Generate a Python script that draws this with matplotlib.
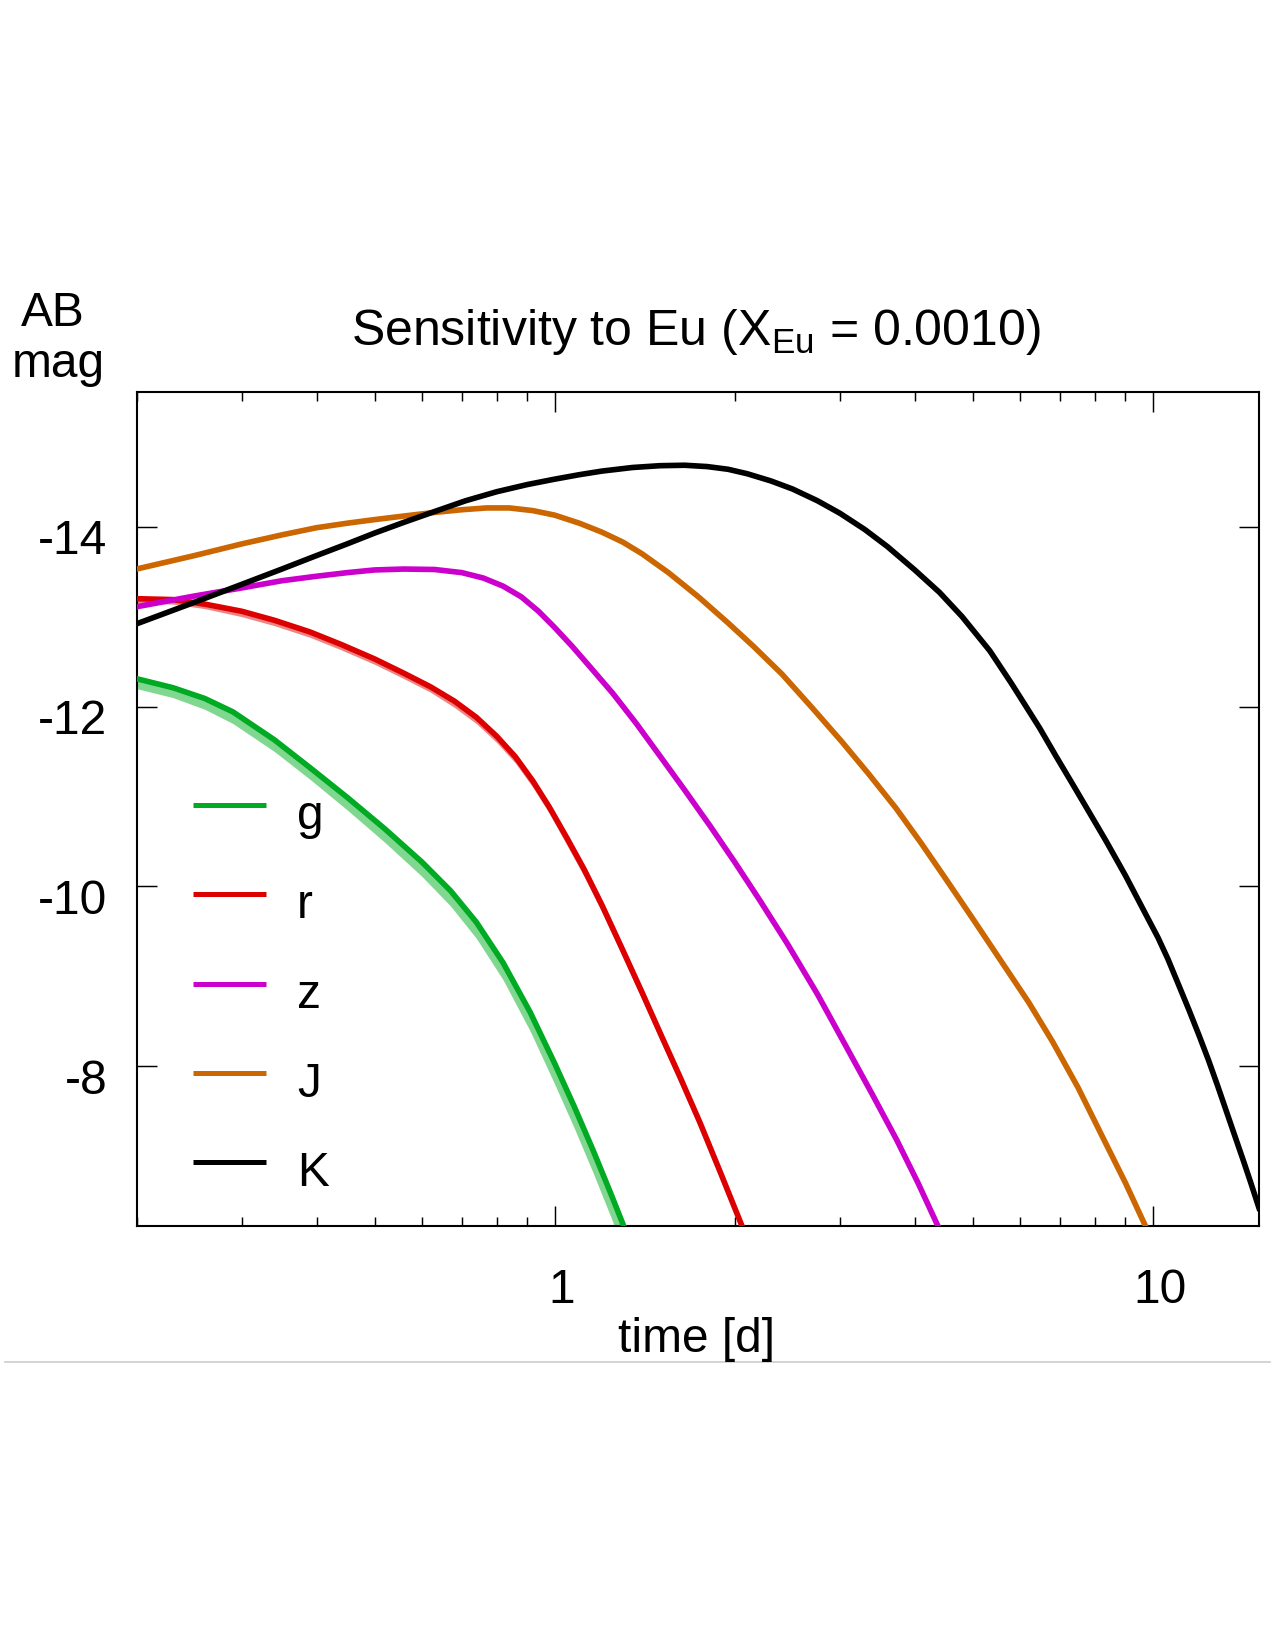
import matplotlib
matplotlib.use("Agg")
import matplotlib.pyplot as plt
import matplotlib.transforms as mtransforms
from matplotlib.lines import Line2D
from matplotlib.ticker import LogLocator, NullFormatter
import numpy as np

plt.rcParams['font.family'] = ['Liberation Sans', 'DejaVu Sans']
plt.rcParams['mathtext.fontset'] = 'custom'
plt.rcParams['mathtext.rm'] = 'Liberation Sans'
plt.rcParams['mathtext.it'] = 'Liberation Sans:italic'
plt.rcParams['axes.unicode_minus'] = False

# light curves (time in days, AB magnitude)
t_g = [0.20, 0.23, 0.26, 0.29, 0.34, 0.39, 0.45, 0.52, 0.60, 0.67, 0.74, 0.82, 0.91, 1.00, 1.08, 1.16, 1.24, 1.31]
m_g = [-12.31, -12.21, -12.09, -11.94, -11.63, -11.32, -10.99, -10.64, -10.27, -9.95, -9.60, -9.15, -8.60, -8.03, -7.54, -7.06, -6.59, -6.19]
m_g_faint = [-12.20, -12.10, -11.97, -11.81, -11.50, -11.19, -10.85, -10.49, -10.11, -9.78, -9.42, -8.96, -8.39, -7.80, -7.30, -6.81, -6.33, -5.92]

t_r = [0.20, 0.23, 0.26, 0.30, 0.34, 0.39, 0.44, 0.50, 0.56, 0.62, 0.68, 0.74, 0.80, 0.86, 0.92, 0.98, 1.05, 1.12, 1.20, 1.30, 1.40, 1.51, 1.62, 1.75, 1.90, 2.06]
m_r = [-13.20, -13.19, -13.14, -13.06, -12.96, -12.83, -12.69, -12.53, -12.37, -12.22, -12.06, -11.88, -11.67, -11.44, -11.17, -10.88, -10.53, -10.19, -9.79, -9.29, -8.82, -8.33, -7.88, -7.37, -6.79, -6.21]
m_r_faint = [-13.15, -13.14, -13.09, -13.00, -12.90, -12.77, -12.63, -12.47, -12.31, -12.16, -11.99, -11.81, -11.60, -11.37, -11.10, -10.81, -10.45, -10.11, -9.71, -9.21, -8.74, -8.25, -7.80, -7.29, -6.71, -6.13]

t_z = [0.20, 0.25, 0.30, 0.35, 0.40, 0.45, 0.50, 0.56, 0.63, 0.70, 0.76, 0.82, 0.88, 0.94, 1.00, 1.07, 1.15, 1.25, 1.37, 1.50, 1.65, 1.82, 2.00, 2.20, 2.45, 2.75, 3.07, 3.40, 3.73, 4.05, 4.38]
m_z = [-13.11, -13.23, -13.32, -13.40, -13.45, -13.49, -13.52, -13.53, -13.525, -13.49, -13.43, -13.34, -13.22, -13.06, -12.88, -12.67, -12.43, -12.15, -11.81, -11.45, -11.07, -10.67, -10.27, -9.85, -9.36, -8.80, -8.22, -7.68, -7.18, -6.70, -6.21]

t_J = [0.20, 0.25, 0.30, 0.35, 0.40, 0.45, 0.50, 0.56, 0.63, 0.70, 0.77, 0.84, 0.92, 1.00, 1.10, 1.20, 1.30, 1.40, 1.55, 1.74, 1.95, 2.15, 2.40, 2.70, 3.02, 3.35, 3.72, 4.10, 4.52, 5.00, 5.60, 6.20, 6.80, 7.50, 8.20, 9.00, 9.72]
m_J = [-13.53, -13.68, -13.81, -13.91, -13.99, -14.04, -14.08, -14.12, -14.16, -14.19, -14.21, -14.21, -14.18, -14.13, -14.04, -13.94, -13.83, -13.70, -13.49, -13.22, -12.93, -12.67, -12.36, -11.98, -11.61, -11.25, -10.87, -10.48, -10.07, -9.64, -9.15, -8.71, -8.27, -7.76, -7.24, -6.70, -6.22]

t_K = [0.20, 0.25, 0.30, 0.35, 0.40, 0.45, 0.50, 0.56, 0.63, 0.71, 0.80, 0.90, 1.00, 1.10, 1.20, 1.35, 1.50, 1.65, 1.80, 1.95, 2.10, 2.30, 2.50, 2.75, 3.00, 3.30, 3.60, 4.00, 4.40, 4.80, 5.34, 5.80, 6.10, 6.47, 6.90, 7.40, 7.85, 8.36, 9.00, 9.80, 10.2, 10.6, 11.05, 11.5, 11.95, 12.4, 12.85, 13.3, 13.75, 14.2, 14.6, 15.05]
m_K = [-12.92, -13.16, -13.36, -13.53, -13.68, -13.81, -13.93, -14.05, -14.17, -14.29, -14.39, -14.47, -14.53, -14.58, -14.62, -14.66, -14.68, -14.685, -14.67, -14.64, -14.59, -14.51, -14.42, -14.29, -14.15, -13.97, -13.78, -13.52, -13.27, -13.00, -12.62, -12.26, -12.03, -11.76, -11.44, -11.10, -10.81, -10.50, -10.12, -9.65, -9.43, -9.19, -8.90, -8.62, -8.34, -8.06, -7.77, -7.48, -7.20, -6.93, -6.69, -6.42]

bands = ['g', 'r', 'z', 'J', 'K']
colors = ['#00aa22', '#dd0000', '#cc00cc', '#cc6600', '#000000']

fig = plt.figure(figsize=(8.5, 11), dpi=150)
ax = fig.add_axes([136.5/1275, 1 - 1226/1650, 1122.5/1275, 834/1650])

# spread of models (lighter band)
ax.fill_between(t_g, m_g, m_g_faint, color='#80d890', lw=0, zorder=2)
ax.fill_between(t_r, m_r, m_r_faint, color='#ee8585', lw=0, zorder=2)

series = [(t_g, m_g), (t_r, m_r), (t_z, m_z), (t_J, m_J), (t_K, m_K)]
for (t, m), c in zip(series, colors):
    ax.plot(t, m, color=c, lw=2.7, zorder=3, solid_joinstyle='round')

ax.set_xscale('log')
ax.set_xlim(0.2, 15.05)
ax.set_ylim(-6.22, -15.5)
ax.set_xticks([1, 10])
ax.set_xticklabels(['1', '10'])
ax.xaxis.set_minor_locator(LogLocator(base=10, subs=np.arange(2, 10)))
ax.xaxis.set_minor_formatter(NullFormatter())
ax.set_yticks([-14, -12, -10, -8])

for s in ax.spines.values():
    s.set_linewidth(1.0)
ax.tick_params(which='both', direction='in', top=True, right=True, width=0.7, labelsize=23)
ax.tick_params(which='major', length=9.5)
ax.tick_params(which='minor', length=4.5)
ax.tick_params(axis='x', pad=20)
ax.tick_params(axis='y', pad=14)

yoff = mtransforms.ScaledTranslation(0, -10/150, fig.dpi_scale_trans)
for lab in ax.get_yticklabels():
    lab.set_transform(lab.get_transform() + yoff)
xoff = mtransforms.ScaledTranslation(7/150, 0, fig.dpi_scale_trans)
for lab in ax.get_xticklabels():
    lab.set_transform(lab.get_transform() + xoff)

# key
for i, (b, c) in enumerate(zip(bands, colors)):
    yl = 805 + i*89.25
    ax.plot([(193 - 136.5)/1122.5, (266 - 136.5)/1122.5], [(1226 - yl)/834]*2,
            color=c, lw=2.4, transform=ax.transAxes, solid_capstyle='butt', zorder=4)
    ax.text((297 - 136.5)/1122.5, (1226 - yl - 24)/834, b, fontsize=23,
            transform=ax.transAxes, va='baseline', ha='left')

fig.text(696/1275, 1 - 345/1650, r'Sensitivity to Eu (X$_{\mathrm{Eu}}$ = 0.0010)',
         fontsize=24, ha='center', va='baseline')
fig.text(53/1275, 1 - 326/1650, 'AB', fontsize=23, ha='center', va='baseline')
fig.text(58/1275, 1 - 377/1650, 'mag', fontsize=23, ha='center', va='baseline')
fig.text(696/1275, 1 - 1352/1650, 'time [d]', fontsize=23, ha='center', va='baseline')

fig.add_artist(Line2D([5/1275, 1270/1275], [1 - 1362/1650]*2, color='#cccccc', lw=0.8))

fig.savefig('out.png', dpi=150)
